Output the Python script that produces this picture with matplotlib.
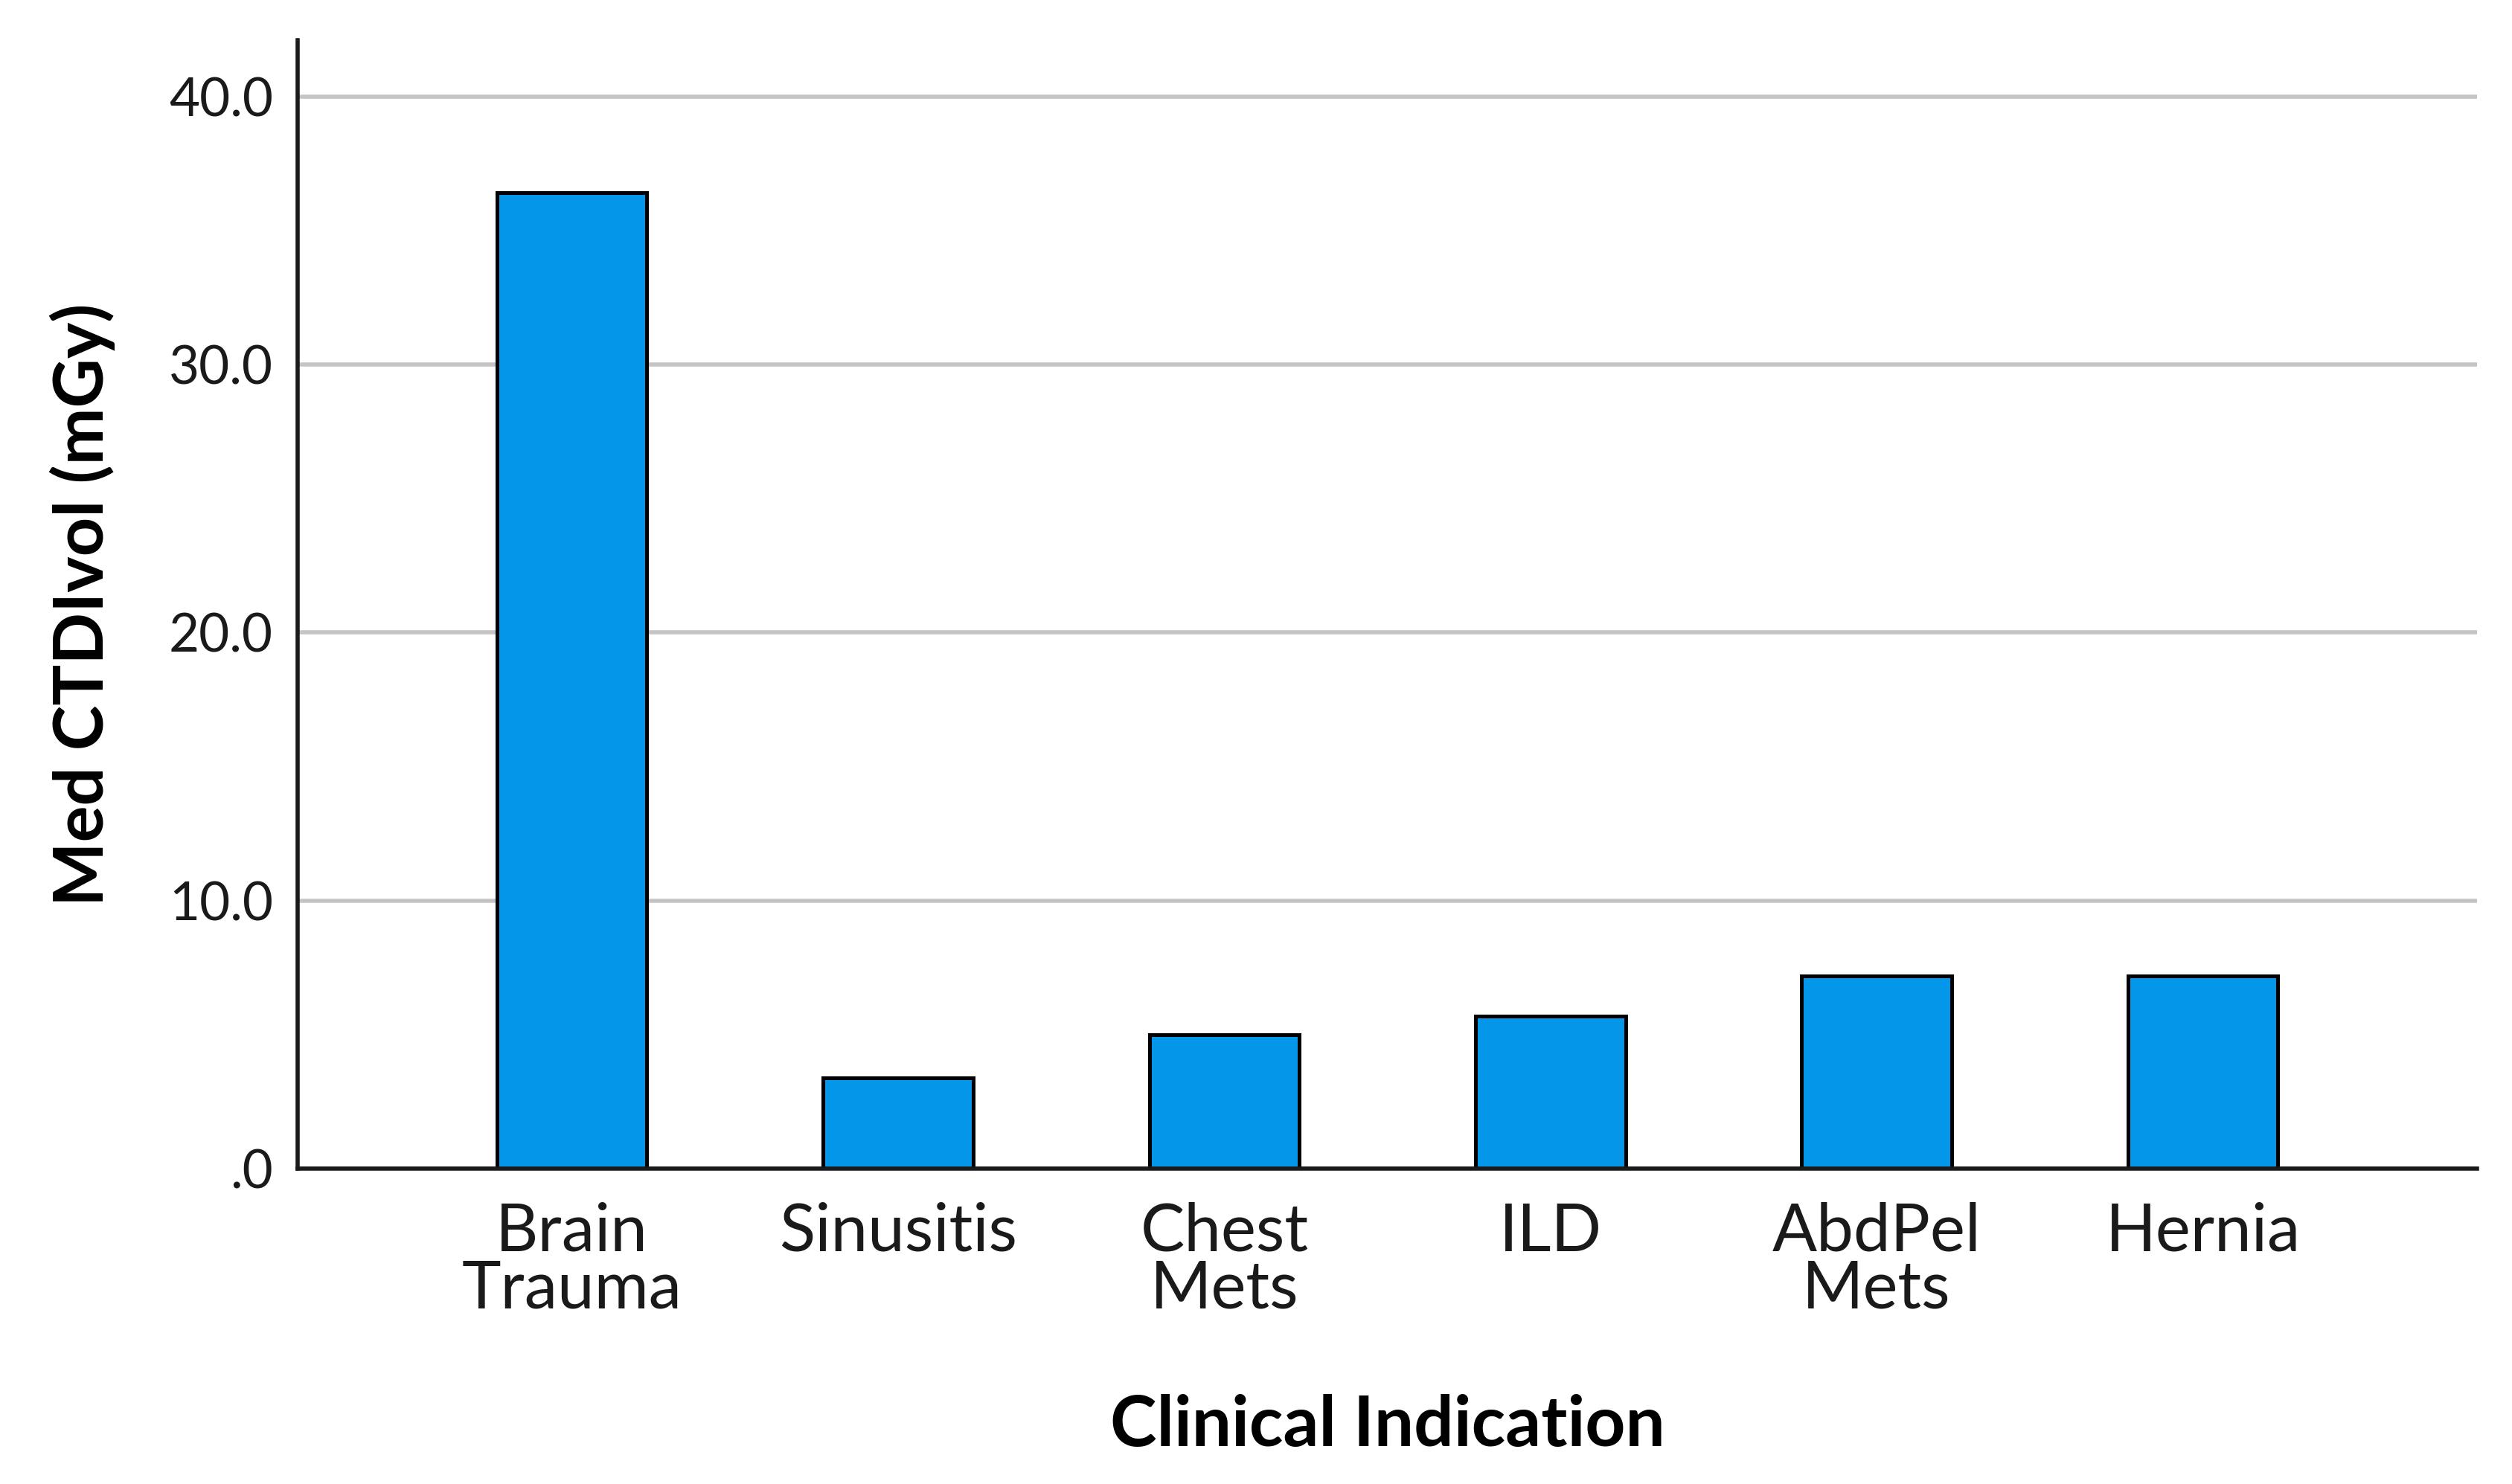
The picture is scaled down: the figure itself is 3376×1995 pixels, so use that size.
import matplotlib.pyplot as plt
from matplotlib.ticker import FuncFormatter

plt.rcParams['font.family'] = ['Lato', 'DejaVu Sans']

categories = ['Brain\nTrauma', 'Sinusitis', 'Chest\nMets', 'ILD', 'AbdPel\nMets', 'Hernia']
med_ctdivol = [36.4, 3.4, 5.0, 5.7, 7.2, 7.2]
yticks = [0, 10, 20, 30, 40]

fig = plt.figure(figsize=(16.88, 9.975), dpi=200)
ax = fig.add_axes([0.1186, 0.2125, 0.986 - 0.1186, 0.973 - 0.2125])

x = range(len(categories))
ax.bar(x, med_ctdivol, width=0.46, color='#0496E8', edgecolor='black', linewidth=1.8, zorder=3)

ax.set_xlim(-0.84, len(categories) - 1 + 0.84)
ax.set_ylim(0, 42.1)
ax.set_yticks(yticks)
ax.yaxis.set_major_formatter(FuncFormatter(lambda v, p: '.0' if v == 0 else f'{v:.1f}'))
ax.set_xticks(list(x))
ax.set_xticklabels(categories, fontsize=32, linespacing=0.92)
ax.tick_params(axis='y', labelsize=25.5, length=0, pad=12, colors='#1a1a1a')
ax.tick_params(axis='x', length=0, pad=16, colors='#1a1a1a')
ax.grid(axis='y', color='#C4C4C4', linewidth=2, zorder=0)

for s in ['top', 'right']:
    ax.spines[s].set_visible(False)
for s in ['left', 'bottom']:
    ax.spines[s].set_linewidth(2)
    ax.spines[s].set_color('#1a1a1a')
    ax.spines[s].set_zorder(4)

ax.set_xlabel('Clinical Indication', fontsize=34, fontweight='bold', labelpad=36)
ax.set_ylabel('Med CTDIvol (mGy)', fontsize=33, fontweight='bold', labelpad=26)

fig.savefig('out.png', dpi=200)
